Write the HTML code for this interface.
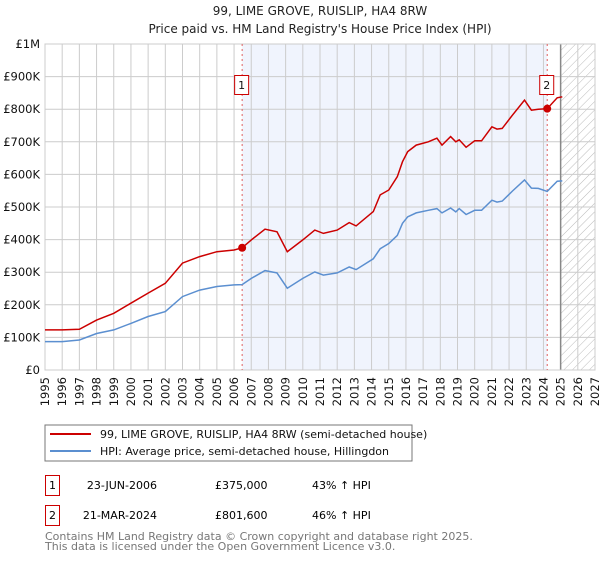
<!DOCTYPE html>
<html><head><meta charset="utf-8"><style>
body{margin:0;background:#fff;font-family:"DejaVu Sans","Liberation Sans",sans-serif;}
svg text{font-family:"DejaVu Sans","Liberation Sans",sans-serif;}
</style></head><body>
<svg id="c" width="600" height="560" xmlns="http://www.w3.org/2000/svg">
<defs><pattern id="hatch" width="6" height="6" patternUnits="userSpaceOnUse" patternTransform="rotate(45)"><line x1="0" y1="0" x2="0" y2="6" stroke="#bbb" stroke-width="1"/></pattern></defs>
<text x="320" y="15" text-anchor="middle" font-size="12" fill="#222">99, LIME GROVE, RUISLIP, HA4 8RW</text>
<text x="320" y="33" text-anchor="middle" font-size="12" fill="#222">Price paid vs. HM Land Registry's House Price Index (HPI)</text>
<g id="plot"></g>
<g>
<rect x="45" y="425" width="367" height="36" fill="#fff" stroke="#777"/>
<line x1="50" y1="434" x2="91" y2="434" stroke="#cc0000" stroke-width="2"/>
<text x="100" y="438" font-size="11" fill="#111">99, LIME GROVE, RUISLIP, HA4 8RW (semi-detached house)</text>
<line x1="50" y1="451" x2="91" y2="451" stroke="#5b8fd0" stroke-width="2"/>
<text x="100" y="455" font-size="11" fill="#111">HPI: Average price, semi-detached house, Hillingdon</text>
</g>
<g>
<rect x="45.5" y="475.5" width="14" height="20" fill="none" stroke="#c00"/>
<text x="52.5" y="489" text-anchor="middle" font-size="11">1</text>
<text x="157" y="489" text-anchor="end" font-size="11">23-JUN-2006</text>
<text x="215" y="489" font-size="11">£375,000</text>
<text x="312" y="489" font-size="11">43% ↑ HPI</text>
<rect x="45.5" y="505.5" width="14" height="20" fill="none" stroke="#c00"/>
<text x="52.5" y="519" text-anchor="middle" font-size="11">2</text>
<text x="157" y="519" text-anchor="end" font-size="11">21-MAR-2024</text>
<text x="215" y="519" font-size="11">£801,600</text>
<text x="312" y="519" font-size="11">46% ↑ HPI</text>
</g>
<text x="45" y="540" font-size="11" fill="#777">Contains HM Land Registry data © Crown copyright and database right 2025.</text>
<text x="45" y="550" font-size="11" fill="#777">This data is licensed under the Open Government Licence v3.0.</text>
</svg>
<script>
const years=[1995,1996,1997,1998,1999,2000,2001,2002,2003,2004,2005,2006,2006.47,2007,2007.8,2008.5,2009.1,2010,2010.7,2011.2,2012,2012.7,2013.1,2014.1,2014.5,2015,2015.5,2015.8,2016.1,2016.6,2017.3,2017.8,2018.1,2018.6,2018.9,2019.1,2019.5,2020,2020.4,2021,2021.3,2021.6,2022.2,2022.9,2023.3,2023.7,2024.22,2024.8,2025.1];
const priceK=[123,123,125,153,174,205,236,266,328,348,363,368,375,399,432,424,363,399,429,419,429,452,442,486,537,552,593,639,670,690,700,711,690,716,700,706,683,703,703,746,739,741,782,828,797,800,801.6,835,838];
const hpiK=[87,87,92,112,123,143,164,179,225,245,256,261,262,281,305,298,251,281,301,291,298,316,308,341,372,388,413,450,470,482,490,495,482,497,485,495,477,490,490,521,515,518,549,583,558,557,548,579,580];
const yTicks=[0,100,200,300,400,500,600,700,800,900,1000];
const yTickLabels=['£0','£100K','£200K','£300K','£400K','£500K','£600K','£700K','£800K','£900K','£1M'];
const xTicks=[1995,1996,1997,1998,1999,2000,2001,2002,2003,2004,2005,2006,2007,2008,2009,2010,2011,2012,2013,2014,2015,2016,2017,2018,2019,2020,2021,2022,2023,2024,2025,2026,2027];
const saleYears=[2006.47,2024.22];
const saleK=[375,801.6];
const saleLabels=['1','2'];
const dataEnd=2025.0;

const X0=45,X1=595,Y0=370,Y1=44;
const xs=y=>X0+(y-1995)/(2027-1995)*(X1-X0);
const ys=v=>Y0-v/1000*(Y0-Y1);
const NS='http://www.w3.org/2000/svg';
const g=document.getElementById('plot');
function mk(tag,attrs,parent){const e=document.createElementNS(NS,tag);for(const k in attrs)e.setAttribute(k,attrs[k]);(parent||g).appendChild(e);return e;}

let e;
e=mk('rect',{x:xs(saleYears[0]),y:Y1,width:xs(saleYears[1])-xs(saleYears[0]),height:Y0-Y1,fill:'#f0f4fd'});


e=mk('rect',{x:xs(dataEnd),y:Y1,width:X1-xs(dataEnd),height:Y0-Y1,fill:'url(#hatch)'});


yTicks.forEach((t,i)=>{
 e=mk('line',{x1:X0,x2:X1,y1:ys(t),y2:ys(t),stroke:'#ccc'});
 
 
 e=mk('text',{x:40,y:ys(t)+4,'text-anchor':'end','font-size':'11.5',fill:'#111'});
 e.textContent=yTickLabels[i];
 
 
});
xTicks.forEach(t=>{
 e=mk('line',{x1:xs(t),x2:xs(t),y1:Y1,y2:Y0,stroke:'#ccc'});
 
 
 const tx=xs(t)+4, ty=377;
 e=mk('text',{x:tx,y:ty,'text-anchor':'end','font-size':'11.5',fill:'#111',transform:'rotate(-90 '+tx+' '+ty+')'});
 e.textContent=t;
 
 
});
e=mk('line',{x1:xs(dataEnd),x2:xs(dataEnd),y1:Y1,y2:Y0,stroke:'#888','stroke-width':1.5});


e=mk('rect',{x:X0,y:Y1,width:X1-X0,height:Y0-Y1,fill:'none',stroke:'#ccc'});


saleYears.forEach((s,i)=>{
 e=mk('line',{x1:xs(s),x2:xs(s),y1:Y1,y2:Y0,stroke:'#e06060','stroke-dasharray':'2,3'});
 
 
});
function path(vals){return vals.map((v,i)=>(i?'L':'M')+xs(years[i]).toFixed(1)+','+ys(v).toFixed(1)).join('');}
e=mk('path',{d:path(hpiK),fill:'none',stroke:'#5b8fd0','stroke-width':1.5});


e=mk('path',{d:path(priceK),fill:'none',stroke:'#cc0000','stroke-width':1.5});


saleYears.forEach((s,i)=>{
 e=mk('circle',{cx:xs(s),cy:ys(saleK[i]),r:4,fill:'#cc0000'});
 
 
 e=mk('rect',{x:xs(s)-7.5,y:75.5,width:14,height:19,fill:'#fff',stroke:'#c00'});
 
 
 e=mk('text',{x:xs(s)-0.5,y:89,'text-anchor':'middle','font-size':'11',fill:'#111'});
 e.textContent=saleLabels[i];
 
 
});
</script>
</body></html>
